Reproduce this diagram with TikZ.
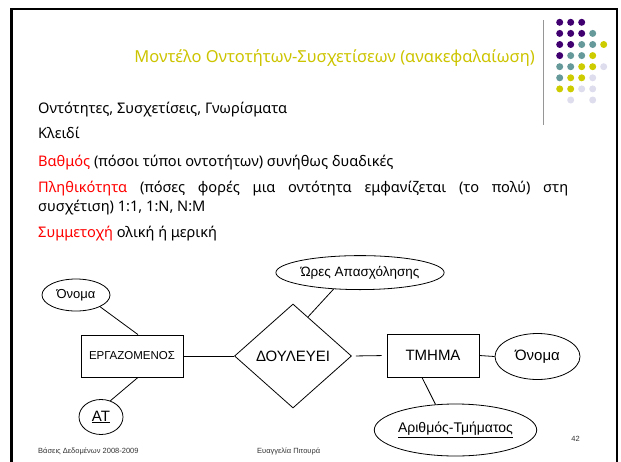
\documentclass[tikz,border=0pt]{standalone}
\usepackage{fontspec}
\setmainfont{Noto Sans}
\newfontfamily\diagfont{Liberation Sans}
\usetikzlibrary{shapes.geometric}

\definecolor{titleyellow}{RGB}{204,196,0}
\definecolor{keyred}{RGB}{255,0,0}
\definecolor{dotpurple}{RGB}{64,0,112}
\definecolor{dotteal}{RGB}{102,153,153}
\definecolor{dotyellow}{RGB}{204,204,0}
\definecolor{dotlilac}{RGB}{221,221,238}
\definecolor{rulegray}{RGB}{150,150,150}

\tikzset{
  bodytext/.style={anchor=base west, inner sep=0pt, font=\fontsize{14.6}{17}\selectfont},
  foot/.style={inner sep=0pt, font=\diagfont\fontsize{7.5}{9}\selectfont, text=black!80},
  er/.style={draw=black, line width=0.8pt, font=\diagfont\fontsize{15}{17}\selectfont, inner sep=0pt},
  entity/.style={er, rectangle},
  attr/.style={er, ellipse},
  relation/.style={er, diamond},
  link/.style={draw=black, line width=0.8pt},
  dot/.style={circle, inner sep=0pt, minimum size=7pt}
}

\begin{document}
\begin{tikzpicture}[x=1pt, y=-1pt]
\useasboundingbox (0,0) rectangle (621,461);
\clip (0,0) rectangle (621,461);

% slide frame
\draw[line width=2.6pt] (11.5,470) -- (11.5,9) -- (617,9) -- (617,470);

% decorative rule and dot grid
\draw[rulegray, line width=1.4pt] (543.5,20) -- (543.5,125);
\def\nonecol{none}
\foreach \row/\cols in {
  0/{dotpurple,dotpurple,dotpurple,none,none},
  1/{dotpurple,dotpurple,dotpurple,dotteal,none},
  2/{dotpurple,dotpurple,dotteal,dotteal,dotyellow},
  3/{dotpurple,dotteal,dotteal,dotyellow,none},
  4/{dotteal,dotteal,dotyellow,dotyellow,dotlilac},
  5/{dotteal,dotyellow,dotyellow,dotlilac,none},
  6/{dotyellow,dotyellow,dotlilac,dotlilac,none},
  7/{none,dotlilac,none,dotlilac,none}}{
  \foreach \c [count=\i from 0] in \cols {
    \ifx\c\nonecol\else
      \node[dot, fill=\c] (dot-\row-\i) at ({559.7+11*\i},{22.3+11.1*\row}) {};
    \fi
  }
}

% title
\node[anchor=base east, inner sep=0pt, text=titleyellow, font=\fontsize{16.5}{20}\selectfont]
  (title) at (535,62) {Μοντέλο Οντοτήτων-Συσχετίσεων (ανακεφαλαίωση)};

% bullet text
\node[bodytext] (l1) at (38,113.2) {Οντότητες, Συσχετίσεις, Γνωρίσματα};
\node[bodytext] (l2) at (38,138.8) {Κλειδί};
\node[bodytext] (l3) at (38,166.7) {\textcolor{keyred}{Βαθμός} (πόσοι τύποι οντοτήτων) συνήθως δυαδικές};
\node[bodytext] (l4) at (38,192.7) {\makebox[530pt][s]{\textcolor{keyred}{Πληθικότητα} (πόσες φορές μια οντότητα εμφανίζεται (το πολύ) στη}};
\node[bodytext] (l5) at (38,211) {συσχέτιση) 1:1, 1:N, N:M};
\node[bodytext] (l6) at (38,237.7) {\textcolor{keyred}{Συμμετοχή} ολική ή μερική};

% ER diagram
\node[attr, minimum width=68pt, minimum height=32pt, font=\diagfont\fontsize{13}{15}\selectfont]
  (name1) at (76,295) {Όνομα};
\node[entity, minimum width=102pt, minimum height=42pt, font=\diagfont\fontsize{11.5}{13}\selectfont]
  (emp) at (132,356) {ΕΡΓΑΖΟΜΕΝΟΣ};
\node[attr, minimum width=44pt, minimum height=35pt]
  (at) at (101,417) {\underline{ΑΤ}};
\node[relation, minimum width=117pt, minimum height=104pt]
  (works) at (293,356) {ΔΟΥΛΕΥΕΙ};
\node[attr, minimum width=148pt, minimum height=34pt, font=\diagfont\fontsize{13.5}{15}\selectfont]
  (hours) at (360,272.6) {Ώρες Απασχόλησης};
\node[entity, minimum width=92pt, minimum height=43pt]
  (dept) at (433,355.5) {ΤΜΗΜΑ};
\node[attr, minimum width=85pt, minimum height=46pt]
  (name2) at (537.5,356.5) {Όνομα};
\node[attr, minimum width=155pt, minimum height=52pt, font=\diagfont\fontsize{14}{16}\selectfont]
  (dnum) at (455.5,430) {\underline{Αριθμός-Τμήματος}};

\draw[link] (name1.-26) -- ([xshift=6pt]emp.north);
\draw[link] ([xshift=6pt]emp.south) -- (at.60);
\draw[link] (emp.east) -- (works.west);
\draw[link, shorten <=4pt, shorten >=5pt] (works.east) -- (dept.west);
\draw[link] (works.69) -- (hours.-148);
\draw[link] (dept.east) -- (name2.west);
\draw[link] ([xshift=-11pt]dept.south) -- (dnum.128);

% footer
\node[foot, anchor=base west] (f1) at (38,453) {Βάσεις Δεδομένων 2008-2009};
\node[foot, anchor=base west] (f2) at (257,453) {Ευαγγελία Πιτουρά};
\node[foot, anchor=base east] (f3) at (580,441) {42};
\end{tikzpicture}
\end{document}
